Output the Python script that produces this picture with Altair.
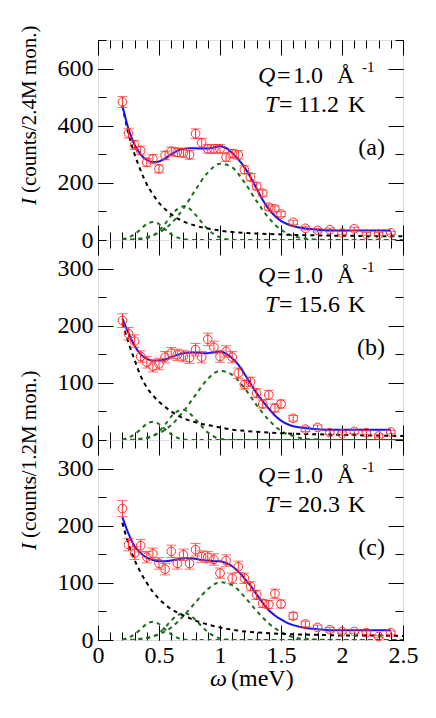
import altair as alt
import pandas as pd

FONT = "Liberation Serif"
RED = "#ff2d2d"
BLUE = "#1414f0"
GREEN = "#1f6e1f"

# ---- measured points (energy transfer in meV) ----
OMEGA = [0.2, 0.25, 0.3, 0.35, 0.4, 0.45, 0.5, 0.55, 0.6, 0.65, 0.7, 0.75, 0.8, 0.85,
         0.9, 0.95, 1.0, 1.05, 1.1, 1.15, 1.2, 1.25, 1.3, 1.35, 1.4, 1.45, 1.5,
         1.6, 1.7, 1.8, 1.9, 2.0, 2.1, 2.2, 2.3, 2.4]

I_A = [483, 374, 333, 313, 272, 284, 249, 296, 310, 307, 305, 298, 372, 340, 319, 319, 319,
       290, 302, 298, 246, 220, 188, 164, 115, 109, 91, 62, 41, 34, 36, 25, 39, 21, 21, 25]
E_A = [19, 17, 16, 15, 14, 15, 14, 15, 15, 15, 15, 15, 17, 16, 15, 15, 15, 15, 15, 15, 14,
       13, 12, 11, 10, 10, 9, 7, 6, 6, 6, 5, 6, 5, 5, 5]

I_B = [209, 186, 173, 146, 136, 129, 133, 145, 152, 149, 147, 144, 158, 145, 176, 162, 146,
       155, 145, 117, 97, 102, 82, 63, 79, 56, 63, 38, 19, 22, 13, 11, 15, 13, 7, 14]
E_B = [12, 11, 11, 10, 10, 10, 10, 10, 10, 10, 10, 10, 11, 10, 11, 11, 10, 10, 10, 9, 8, 8,
       8, 7, 8, 7, 7, 5, 4, 4, 3, 3, 4, 3, 3, 3]

I_C = [230, 167, 152, 165, 145, 151, 134, 124, 155, 134, 149, 134, 158, 146, 145, 141, 117,
       139, 108, 128, 108, 94, 79, 64, 62, 81, 63, 42, 28, 22, 18, 15, 15, 13, 6, 13]
E_C = [14, 11, 11, 11, 10, 10, 10, 10, 11, 10, 10, 10, 11, 10, 10, 10, 9, 10, 9, 10, 9, 8,
       8, 7, 7, 8, 7, 6, 5, 4, 4, 3, 3, 3, 2, 3]

# ---- total fit (blue) ----
FIT_X = [0.2, 0.25, 0.3, 0.35, 0.4, 0.45, 0.5, 0.55, 0.6, 0.65, 0.7, 0.75, 0.8, 0.85, 0.9,
         0.95, 1.0, 1.05, 1.1, 1.15, 1.2, 1.25, 1.3, 1.35, 1.4, 1.45, 1.5, 1.55, 1.6, 1.7,
         1.8, 1.9, 2.0, 2.2, 2.4]
FIT_A = [470, 389, 333, 300, 280, 273, 275, 285, 300, 312, 319, 321, 321, 320, 320, 324, 328,
         322, 305, 282, 255, 220, 180, 140, 108, 84, 67, 56, 48, 40, 36, 34, 33, 33, 33]
FIT_B = [213, 187, 165, 150, 142, 139, 139, 141, 145, 149, 152, 153, 153, 152, 152, 154, 155,
         151, 143, 132, 116, 99, 82, 68, 55, 43, 34, 28, 24, 21, 19, 18, 18, 18, 18]
FIT_C = [215, 186, 164, 152, 144, 140, 138, 138, 139, 141, 143, 143, 142, 140, 139, 138, 138,
         135, 129, 120, 108, 95, 80, 65, 52, 43, 36, 30, 26, 21, 19, 17, 17, 17, 17]

# ---- quasi-elastic component (black dashed) ----
QE_X = [0.2, 0.25, 0.3, 0.35, 0.4, 0.45, 0.5, 0.55, 0.6, 0.65, 0.7, 0.8, 0.9, 1.0, 1.1, 1.2,
        1.4, 1.6, 1.8, 2.0, 2.2, 2.5]
QE_A = [470, 372, 300, 243, 195, 160, 130, 108, 90, 76, 65, 50, 40, 33, 28, 25, 21, 18, 16,
        15, 14, 13]
QE_B = [205, 170, 140, 112, 92, 78, 67, 58, 50, 43, 38, 31, 26, 22, 18, 16, 13, 11, 10, 9, 8, 7]
QE_C = [205, 168, 140, 118, 100, 84, 72, 62, 54, 48, 43, 34, 27, 22, 18, 15, 12, 10, 9, 8, 8, 7]

# ---- inelastic peaks (green dashed) ----
P1_X = [0.2, 0.25, 0.3, 0.35, 0.4, 0.45, 0.5, 0.55, 0.6, 0.65, 0.7, 0.75, 0.8, 2.5]
P1_A = [3, 9, 20, 38, 56, 63, 56, 38, 20, 9, 3, 1, 0, 0]
P1_B = [1, 4, 10, 19, 28, 32, 28, 19, 10, 4, 1, 0, 0, 0]
P1_C = [1, 4, 10, 19, 28, 32, 28, 19, 10, 4, 1, 0, 0, 0]

P2_X = [0.2, 0.3, 0.35, 0.4, 0.45, 0.5, 0.55, 0.6, 0.65, 0.7, 0.75, 0.8, 0.85, 0.9, 0.95,
        1.0, 1.05, 1.1, 1.15, 2.5]
P2_A = [0, 1, 2, 6, 15, 32, 57, 86, 108, 118, 110, 88, 62, 38, 20, 9, 3, 1, 0, 0]
P2_B = [0, 0, 1, 3, 7, 15, 27, 41, 50, 53, 47, 36, 24, 13, 6, 2, 1, 0, 0, 0]
P2_C = [0, 0, 1, 3, 6, 12, 22, 34, 43, 47, 44, 35, 24, 14, 7, 3, 1, 0, 0, 0]

P3_X = [0.2, 0.3, 0.4, 0.5, 0.6, 0.7, 0.8, 0.9, 1.0, 1.1, 1.2, 1.3, 1.4, 1.5, 1.6, 1.7, 1.8,
        1.9, 2.5]
P3_A = [1, 3, 10, 26, 58, 110, 176, 236, 267, 254, 202, 136, 77, 36, 14, 5, 1, 0, 0]
P3_B = [0, 1, 4, 12, 26, 50, 79, 107, 121, 114, 91, 61, 35, 16, 7, 2, 1, 0, 0]
P3_C = [0, 1, 4, 10, 22, 42, 66, 89, 101, 96, 76, 51, 29, 14, 5, 2, 1, 0, 0]

# ---- axes / labels ----
X_MAJOR = [0, 0.5, 1, 1.5, 2, 2.5]
X_MINOR = [round(0.1 * i, 1) for i in range(26)]
Y_MAJOR_A = [0, 200, 400, 600]
Y_MINOR_A = [0, 100, 200, 300, 400, 500, 600, 700]
Y_MAJOR_BC = [0, 100, 200, 300]
Y_MINOR_BC = [0, 50, 100, 150, 200, 250, 300, 350]
Y_MAX = [700, 350, 350]
PANEL_TAGS = ["(a)", "(b)", "(c)"]
TEMPS = ["11.2", "15.6", "20.3"]
Q_VALUE = "1.0"
Y_TITLES = ["(counts/2.4M mon.)", "(counts/1.2M mon.)"]

W, H = 305, 200
ONE = alt.Data(values=[{"k": 0}])


def txt(s, x, y, size=24, italic=False, align="left", angle=0):
    kw = dict(text=s, font=FONT, fontSize=size, align=align, baseline="alphabetic",
              color="black")
    if italic:
        kw["fontStyle"] = "italic"
    if angle:
        kw["angle"] = angle
    return alt.Chart(ONE).mark_text(**kw).encode(x=alt.value(x), y=alt.value(y))


def panel(i, I, E, fit, qe, p1, p2, p3, ymaj, ymin, bottom_labels, extra):
    xs = alt.Scale(domain=[0, 2.5], nice=False, zero=False)
    ys = alt.Scale(domain=[0, Y_MAX[i]], nice=False, zero=False)

    pts = pd.DataFrame({"x": OMEGA, "y": I,
                        "lo": [a - b for a, b in zip(I, E)],
                        "hi": [a + b for a, b in zip(I, E)]})

    def X(f="x"):
        return alt.X(f + ":Q", scale=xs, axis=None)

    def Y(f="y"):
        return alt.Y(f + ":Q", scale=ys, axis=None)

    def line(xv, yv, color, dash=None):
        kw = dict(color=color, strokeWidth=2, interpolate="monotone", clip=True)
        if dash:
            kw["strokeDash"] = dash
        return alt.Chart(pd.DataFrame({"x": xv, "y": yv})).mark_line(**kw).encode(x=X(), y=Y())

    layers = [
        line(P1_X, p1, GREEN, [4, 4]),
        line(P2_X, p2, GREEN, [4, 4]),
        line(P3_X, p3, GREEN, [4, 4]),
        line(QE_X, qe, "black", [4, 4]),
        line(FIT_X, fit, BLUE),
        alt.Chart(pts).mark_rule(color=RED, strokeWidth=1).encode(x=X(), y=Y("lo"), y2="hi:Q"),
        alt.Chart(pts).mark_tick(color=RED, orient="horizontal", size=10, thickness=1)
        .encode(x=X(), y=Y("lo")),
        alt.Chart(pts).mark_tick(color=RED, orient="horizontal", size=10, thickness=1)
        .encode(x=X(), y=Y("hi")),
        alt.Chart(pts).mark_point(shape="circle", filled=False, color=RED, size=75,
                                  strokeWidth=1, opacity=1).encode(x=X(), y=Y()),
    ]

    common = dict(domain=False, grid=False, tickColor="black", tickWidth=1, title=None,
                  labelFont=FONT, labelFontSize=24, labelColor="black",
                  labelFlush=False, labelOverlap=False)
    dummy = pd.DataFrame({"x": [0], "y": [0]})

    def axis_layer(xa, ya):
        return alt.Chart(dummy).mark_point(opacity=0).encode(
            x=alt.X("x:Q", scale=xs, axis=xa), y=alt.Y("y:Q", scale=ys, axis=ya))

    layers += [
        axis_layer(alt.Axis(orient="bottom", values=X_MAJOR, tickSize=15, offset=-15,
                            labels=bottom_labels, format="~g", labelPadding=3, **common),
                   alt.Axis(orient="left", values=ymaj, tickSize=15, offset=-15,
                            labels=True, format="d", labelPadding=5, **common)),
        axis_layer(alt.Axis(orient="bottom", values=X_MINOR, tickSize=8, offset=-8,
                            labels=False, **common),
                   alt.Axis(orient="left", values=ymin, tickSize=8, offset=-8,
                            labels=False, **common)),
        axis_layer(alt.Axis(orient="top", values=X_MAJOR, tickSize=15, offset=-15,
                            labels=False, **common),
                   alt.Axis(orient="right", values=ymaj, tickSize=15, offset=-15,
                            labels=False, **common)),
        axis_layer(alt.Axis(orient="top", values=X_MINOR, tickSize=8, offset=-8,
                            labels=False, **common),
                   alt.Axis(orient="right", values=ymin, tickSize=8, offset=-8,
                            labels=False, **common)),
    ]

    # annotations
    layers += [
        txt("Q", 160, 43, italic=True),
        txt("=", 179, 43),
        txt(Q_VALUE, 195, 43),
        txt("Å", 239, 43),
        txt("-1", 264, 32, size=15),
        txt("T", 167, 72, italic=True),
        txt("=", 181, 72),
        txt(TEMPS[i], 200, 72),
        txt("K", 250, 72),
        txt(PANEL_TAGS[i], 287, 115, align="right"),
    ]
    layers += extra

    return (alt.layer(*layers)
            .resolve_scale(x="shared", y="shared")
            .resolve_axis(x="independent", y="independent")
            .properties(width=W, height=H))


title_a = [txt("I", -62, 165, size=21, italic=True, angle=270),
           txt(Y_TITLES[0], -62, 153, size=21, angle=270)]
title_bc = [txt("I", -62, 310, size=21, italic=True, angle=270),
            txt(Y_TITLES[1], -62, 298, size=21, angle=270)]
x_title = [txt("ω", 112, 246, italic=True), txt("(meV)", 133, 246)]

pa = panel(0, I_A, E_A, FIT_A, QE_A, P1_A, P2_A, P3_A, Y_MAJOR_A, Y_MINOR_A, False, title_a)
pb = panel(1, I_B, E_B, FIT_B, QE_B, P1_B, P2_B, P3_B, Y_MAJOR_BC, Y_MINOR_BC, False, title_bc)
pc = panel(2, I_C, E_C, FIT_C, QE_C, P1_C, P2_C, P3_C, Y_MAJOR_BC, Y_MINOR_BC, True, x_title)

chart = (alt.vconcat(pa, pb, pc, spacing=0, bounds="flush")
         .properties(padding={"left": 10, "top": 17, "right": 5, "bottom": 5})
         .configure_view(stroke="black", strokeWidth=1)
         .configure(background="white"))

chart.save("out.html", embed_options={"renderer": "svg", "actions": False})
